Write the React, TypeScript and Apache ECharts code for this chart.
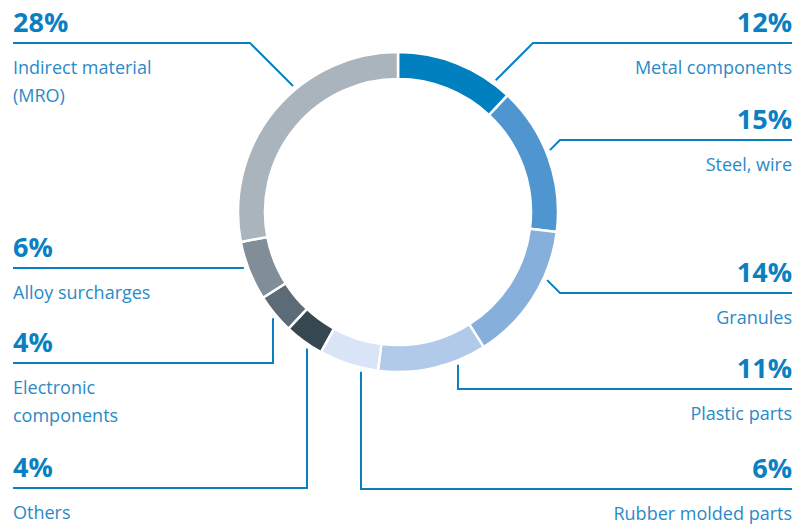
import React, { useEffect, useRef } from "react";
import * as echarts from "echarts";

const categories = [
  "Metal components",
  "Steel, wire",
  "Granules",
  "Plastic parts",
  "Rubber molded parts",
  "Others",
  "Electronic components",
  "Alloy surcharges",
  "Indirect material (MRO)",
];
const displayNames = [
  "Metal components",
  "Steel, wire",
  "Granules",
  "Plastic parts",
  "Rubber molded parts",
  "Others",
  "Electronic\ncomponents",
  "Alloy surcharges",
  "Indirect material\n(MRO)",
];
const values = [12, 15, 14, 11, 6, 4, 4, 6, 28];
const colors = [
  "#0080bf",
  "#4f95cf",
  "#86afdc",
  "#b1caea",
  "#d9e4f6",
  "#37474f",
  "#5d6b76",
  "#818e98",
  "#aab4bd",
];

// label layout (positions only)
const labelLayout = [
  { side: "right", lineY: 43, elbowX: 533, leader: "diag" },
  { side: "right", lineY: 140, elbowX: 560, leader: "diag" },
  { side: "right", lineY: 293, elbowX: 560, leader: "diag" },
  { side: "right", lineY: 389, elbowX: 458, leader: "vert" },
  { side: "right", lineY: 489, elbowX: 361, leader: "vert" },
  { side: "left", lineY: 488, elbowX: 307, leader: "vert" },
  { side: "left", lineY: 363, elbowX: 273, leader: "vert" },
  { side: "left", lineY: 268, elbowX: 244, leader: "horiz" },
  { side: "left", lineY: 43, elbowX: 250, leader: "diag" },
];

const CX = 398;
const CY = 212;
const R_IN = 133;
const R_OUT = 160;
const R_LEAD = 164;
const LEFT_X = 13;
const RIGHT_X = 792;
const LABEL_COLOR = "#0a7fc1";
const NAME_COLOR = "#2a8ac8";
const FONT = "'Open Sans', Lato, sans-serif";

function leaderStart(l: any): number[] {
  if (l.leader === "vert") {
    const dx = l.elbowX - CX;
    const h = Math.sqrt(Math.max(0, R_LEAD * R_LEAD - dx * dx));
    return [l.elbowX, l.lineY > CY ? CY + h : CY - h];
  }
  if (l.leader === "horiz") {
    const dy = l.lineY - CY;
    const w = Math.sqrt(Math.max(0, R_LEAD * R_LEAD - dy * dy));
    return [l.side === "left" ? CX - w : CX + w, l.lineY];
  }
  const dxs = l.side === "right" ? -1 : 1;
  const dys = CY > l.lineY ? 1 : -1;
  const ux = dxs / Math.SQRT2;
  const uy = dys / Math.SQRT2;
  const px = l.elbowX - CX;
  const py = l.lineY - CY;
  const b = 2 * (px * ux + py * uy);
  const c = px * px + py * py - R_LEAD * R_LEAD;
  const disc = Math.max(0, b * b - 4 * c);
  const s = (-b - Math.sqrt(disc)) / 2;
  return [l.elbowX + ux * s, l.lineY + uy * s];
}

export default function App() {
  const ref = useRef<HTMLDivElement>(null);
  useEffect(() => {
    if (!ref.current) return;
    const chart = echarts.init(ref.current, null, { renderer: "svg" });
    const total = values.reduce((a, b) => a + b, 0);
    const graphics: any[] = [];
    labelLayout.forEach((l, i) => {
      const start = leaderStart(l);
      const endX = l.side === "right" ? RIGHT_X : LEFT_X;
      const pts =
        l.leader === "horiz"
          ? [start, [endX, l.lineY]]
          : [start, [l.elbowX, l.lineY], [endX, l.lineY]];
      graphics.push({
        type: "polyline",
        shape: { points: pts },
        style: { stroke: LABEL_COLOR, lineWidth: 2, fill: null },
        silent: true,
      });
      const pct = Math.round((values[i] / total) * 100) + "%";
      graphics.push({
        type: "text",
        x: endX,
        y: l.lineY - 22,
        style: {
          text: pct,
          fill: LABEL_COLOR,
          font: `bold 27px ${FONT}`,
          align: l.side === "right" ? "right" : "left",
          verticalAlign: "middle",
        },
      });
      graphics.push({
        type: "text",
        x: endX,
        y: l.lineY + 10,
        style: {
          text: displayNames[i],
          fill: NAME_COLOR,
          font: `18px ${FONT}`,
          lineHeight: 28,
          align: l.side === "right" ? "right" : "left",
          verticalAlign: "top",
        },
      });
    });
    chart.setOption({
      animation: false,
      backgroundColor: "#ffffff",
      series: [
        {
          type: "pie",
          center: [CX, CY],
          radius: [R_IN, R_OUT],
          startAngle: 90,
          clockwise: true,
          label: { show: false },
          labelLine: { show: false },
          silent: true,
          itemStyle: { borderColor: "#ffffff", borderWidth: 2.5 },
          data: categories.map((c, i) => ({
            name: c,
            value: values[i],
            itemStyle: { color: colors[i] },
          })),
        },
      ],
      graphic: graphics,
    });
    return () => chart.dispose();
  }, []);
  return (
    <div
      ref={ref}
      style={{ position: "absolute", left: 0, top: 0, width: 796, height: 527 }}
    />
  );
}
